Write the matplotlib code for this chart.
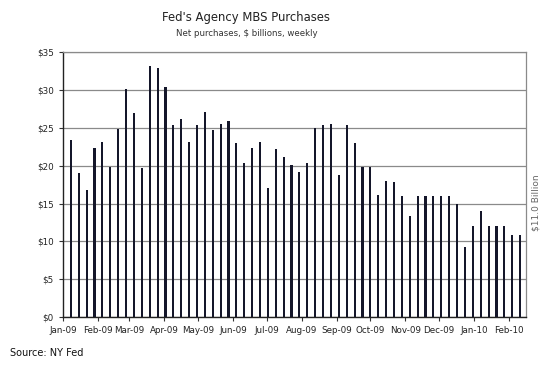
import pandas as pd
import matplotlib
matplotlib.use('Agg')
import matplotlib.pyplot as plt
import matplotlib.dates as mdates

# Weekly net purchases, $ billions
weeks = pd.date_range('2009-01-08', periods=58, freq='7D')
purchases = [23.4, 19.0, 16.8, 22.3, 23.2, 19.8, 24.9, 30.1, 27.0, 19.7,
             33.2, 32.9, 30.4, 25.4, 26.2, 23.1, 25.4, 27.1, 24.7, 25.5,
             25.9, 23.0, 20.3, 22.3, 23.1, 17.0, 22.2, 21.1, 20.1, 19.2,
             20.4, 25.0, 25.4, 25.5, 18.8, 25.4, 23.0, 19.9, 19.9, 16.1,
             18.0, 17.9, 16.0, 13.4, 16.0, 16.0, 16.0, 16.0, 16.0, 14.9,
             9.3, 12.0, 14.0, 12.0, 12.0, 12.0, 10.9, 10.9]
yticks = [0, 5, 10, 15, 20, 25, 30, 35]

fig = plt.figure(figsize=(5.6, 3.67), dpi=100)
ax = fig.add_axes([0.1125, 0.1362, 0.8263, 0.7213])

ax.bar(weeks, purchases, width=1.9, color='#14162a', zorder=3)

ax.set_xlim(pd.Timestamp('2009-01-01'), pd.Timestamp('2010-02-16'))
ax.set_ylim(0, 35)
ax.set_yticks(yticks)
ax.set_yticklabels(['$%d' % v for v in yticks])
ax.yaxis.grid(True, color='#8a8a8a', linewidth=0.9, zorder=0)

ax.xaxis.set_major_locator(mdates.MonthLocator())
ax.xaxis.set_major_formatter(mdates.DateFormatter('%b-%y'))

ax.tick_params(axis='both', labelsize=6.3, colors='#333333', length=3, width=0.8)
for lab in ax.get_xticklabels() + ax.get_yticklabels():
    lab.set_color('#222222')

for side in ['top', 'right']:
    ax.spines[side].set_color('#8a8a8a')
    ax.spines[side].set_linewidth(0.9)
for side in ['left', 'bottom']:
    ax.spines[side].set_color('#222222')
    ax.spines[side].set_linewidth(1.0)

fig.text(0.44, 0.951, "Fed's Agency MBS Purchases", ha='center', va='center',
         fontsize=8.4, color='#222222')
fig.text(0.44, 0.91, 'Net purchases, $ billions, weekly', ha='center', va='center',
         fontsize=6.2, color='#333333')
fig.text(0.018, 0.038, 'Source: NY Fed', ha='left', va='center',
         fontsize=7, color='#111111')
fig.text(0.958, 0.447, '$11.0 Billion', ha='center', va='center', rotation=90,
         fontsize=6.5, color='#666666')

fig.savefig('out.png', dpi=100)
